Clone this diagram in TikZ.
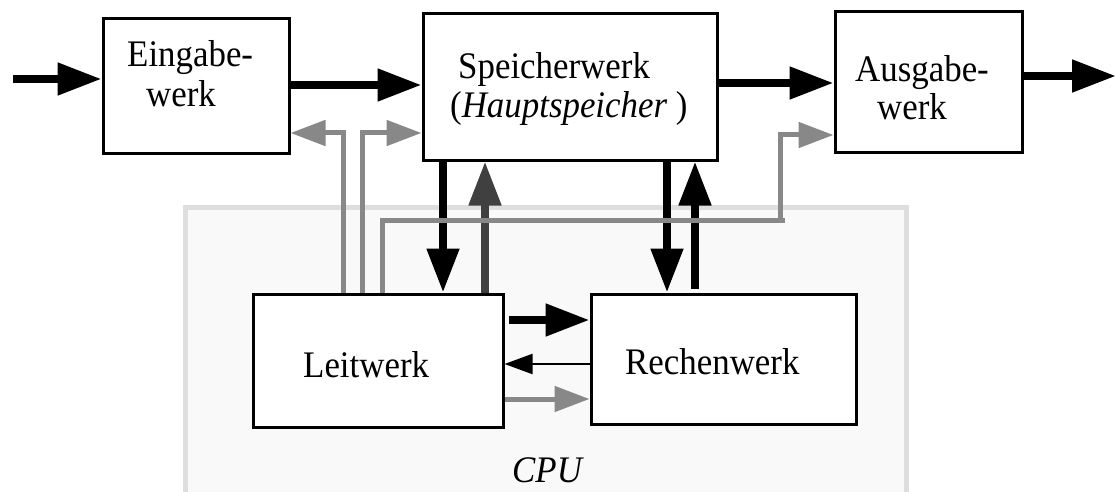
\documentclass[tikz,border=0pt]{standalone}
\usepackage{fontspec}
\setmainfont[FakeStretch=0.93]{Liberation Serif}
\usetikzlibrary{arrows.meta}
\definecolor{sig}{RGB}{136,136,136}
\definecolor{darkline}{RGB}{64,64,64}
\definecolor{cpufill}{RGB}{249,249,249}
\definecolor{cpuedge}{RGB}{222,222,222}

\begin{document}
\begin{tikzpicture}[x=1pt,y=-1pt,
  unit/.style={draw=black,line width=3pt,fill=white,inner sep=0pt},
  lbl/.style={anchor=base west,inner sep=0pt,font=\fontsize{37.5}{40}\selectfont},
  bus/.style={line width=8pt,-{Triangle[length=44pt,width=31pt]}},
  ctrl/.style={draw=sig,line width=5pt,-{Triangle[length=35pt,width=25pt]}},
  ctrlline/.style={draw=sig,line width=5pt},
  thinarrow/.style={line width=2pt,-{Triangle[length=28pt,width=20pt]}}]

\clip (0,0) rectangle (1116,492);
\fill[white] (0,0) rectangle (1116,492);

% CPU area
\node[draw=cpuedge,fill=cpufill,line width=5pt,inner sep=0pt,
      minimum width=721pt,minimum height=320pt] (cpu) at (545.5,367) {};
\node[lbl,font=\fontsize{37.5}{40}\selectfont\itshape] (cpulbl) at (512,482) {CPU};

% functional units
\node[unit,minimum width=186pt,minimum height=134pt] (ein) at (196,86) {};
\node[unit,minimum width=294pt,minimum height=146pt] (spk) at (570,87) {};
\node[unit,minimum width=187pt,minimum height=140pt] (aus) at (928.5,82) {};
\node[unit,minimum width=250pt,minimum height=133pt] (lw) at (378,360.5) {};
\node[unit,minimum width=265pt,minimum height=130pt] (rw) at (723.5,359) {};

% labels
\node[lbl] (einA) at (127,67) {Eingabe-};
\node[lbl] (einB) at (146,107) {werk};
\node[lbl] (spkA) at (458,79) {Speicherwerk};
\node[lbl] (spkB) at (450,118) {(\textit{Hauptspeicher} )};
\node[lbl] (ausA) at (855,82) {Ausgabe-};
\node[lbl] (ausB) at (877,120) {werk};
\node[lbl] (lwl) at (303,377) {Leitwerk};
\node[lbl] (rwl) at (625,374) {Rechenwerk};

% external data flow
\coordinate (in) at (13,79);
\coordinate (out) at (1116,76);
\draw[bus] (in) -- (ein.west |- 0,79);
\draw[bus] (ein.east |- 0,85) -- (spk.west |- 0,85);
\draw[bus] (spk.east |- 0,83) -- (aus.west |- 0,83);
\draw[bus] (aus.east |- 0,76) -- (out);

% memory <-> control unit / arithmetic unit
\draw[bus] (spk.south -| 443,0) -- (lw.north -| 443,0);
\draw[bus,darkline] (lw.north -| 485,0) -- (spk.south -| 485,0);
\draw[bus] (spk.south -| 667,0) -- (rw.north -| 667,0);
\draw[bus] ([yshift=4pt]rw.north -| 695,0) -- (spk.south -| 695,0);

% control signals
\draw[ctrl] (lw.north -| 343,0) |- (ein.east |- 0,133);
\draw[ctrl] (lw.north -| 362,0) |- (spk.west |- 0,133);
\draw[ctrlline] (lw.north -| 382,0) |- (785,220);
\draw[ctrl] (780,220) |- (aus.west |- 0,135);

% control unit <-> arithmetic unit
\draw[bus] ([xshift=4pt]lw.east |- 0,320) -- (rw.west |- 0,320);
\draw[thinarrow] (rw.west |- 0,364) -- (lw.east |- 0,364);
\draw[ctrl] (lw.east |- 0,399) -- (rw.west |- 0,399);
\end{tikzpicture}
\end{document}
